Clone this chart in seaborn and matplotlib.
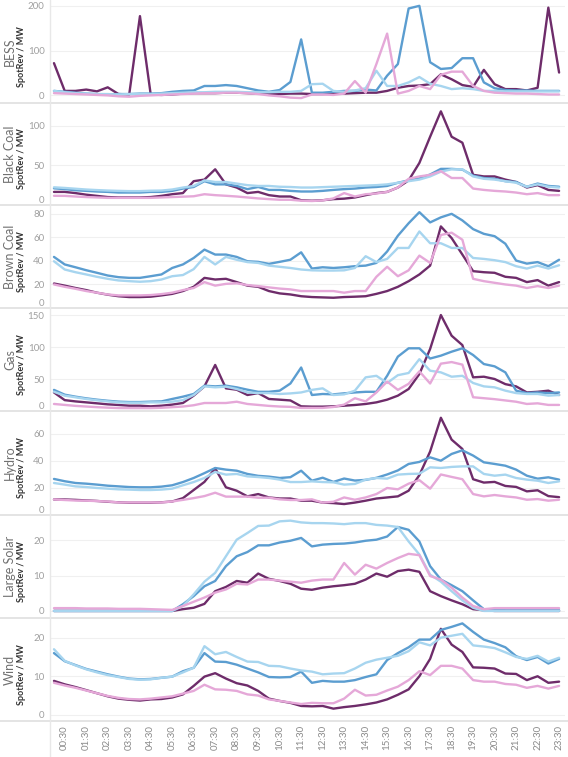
import numpy as np
import pandas as pd
import matplotlib
matplotlib.use("Agg")
import matplotlib.pyplot as plt
from matplotlib.lines import Line2D
import seaborn as sns

# half-hour slots, labels shown on the :30 ones
times = [f"{h:02d}:{m:02d}" for h in range(24) for m in (0, 30)]
fuels = ["BESS", "Black Coal", "Brown Coal", "Gas", "Hydro", "Large Solar", "Wind"]
series = ["Series 1", "Series 2", "Series 3", "Series 4"]

bess_s1 = [72, 10, 10, 13, 9, 18, 3, 2, 177, 2, 1, 2, 4, 5, 5, 5, 6, 6, 5, 4, 3, 3, 4, 4,
           3, 3, 4, 4, 5, 6, 6, 10, 17, 21, 22, 25, 47, 36, 23, 19, 57, 25, 14, 14, 11, 17, 196, 51]
bess_s2 = [10, 8, 6, 4, 3, 2, 3, 3, 4, 4, 5, 8, 10, 11, 21, 21, 23, 21, 16, 11, 8, 12, 30, 125,
           6, 6, 8, 10, 10, 13, 11, 44, 70, 194, 200, 74, 59, 61, 83, 83, 29, 16, 12, 11, 11, 10, 10, 10]
bess_s3 = [10, 7, 5, 4, 3, 3, 2, 3, 3, 3, 4, 5, 6, 7, 7, 8, 8, 8, 7, 7, 7, 8, 8, 10,
           25, 26, 10, 8, 11, 16, 55, 21, 21, 29, 41, 26, 21, 14, 16, 14, 10, 10, 9, 9, 9, 9, 9, 9]
bess_s4 = [5, 4, 3, 2, 1, 0, -2, -3, -1, 0, 1, 2, 3, 4, 5, 5, 6, 6, 5, 3, 0, -2, -5, -6,
           2, 2, 1, 4, 32, 6, 70, 138, 4, 10, 21, 14, 46, 53, 53, 21, 10, 6, 5, 4, 4, 3, 2, 2]

black_s1 = [16.5, 16.5, 15, 13, 11.5, 10, 9.5, 9.5, 9.5, 10, 11.5, 13.6, 15, 30, 32, 45, 26, 22, 15, 16.5, 12.4, 10.7, 10.7, 6,
            5.4, 6, 7.4, 8, 9.5, 12.4, 15, 16.5, 22, 31, 53, 86, 118, 86, 78.5, 38, 36, 36, 32, 29, 22, 25, 19, 17.8]
black_s2 = [21, 20, 18.6, 17.8, 17, 16.5, 15.7, 15.7, 15.7, 16.5, 16.5, 17.8, 20.7, 22.7, 30, 26, 26, 24, 20, 22.7, 19, 19, 17.8, 17,
            17, 17.8, 19, 20, 20.7, 22, 22.7, 24, 28, 31, 33.5, 38.4, 45.5, 45.5, 44.6, 37, 34, 33, 30, 29, 23, 27, 24, 23]
black_s3 = [22.3, 21.5, 20.5, 19.5, 18.8, 18.2, 17.8, 17.5, 17.5, 18, 18.2, 19.5, 22, 24, 31, 29, 29, 27, 25, 24, 24, 23, 22.7, 22,
            22, 22.5, 23, 23.5, 24, 24.5, 25, 26, 28, 30, 32, 36, 42, 45, 45, 36, 33, 32, 30, 28, 23, 26, 23, 22]
black_s4 = [11.6, 11.5, 10.7, 10, 9.5, 9, 9, 9, 9, 9, 9.5, 10, 10.5, 11, 13.6, 12.4, 11.6, 10.7, 9.5, 8.3, 7.4, 6.6, 6.6, 5.4,
            5, 5.8, 8.3, 15, 10.7, 13.6, 14.5, 16.5, 22, 33, 36, 38, 42.6, 34, 34, 20.7, 19, 17.8, 17, 15.7, 13.6, 15, 12.4, 12.4]

brown_s1 = [20.8, 19, 17, 15.2, 13, 11.3, 10, 9.3, 9.3, 9.6, 10.7, 12, 14.4, 18, 25.6, 24.2, 24.8, 22, 19, 18, 14.4, 12.4, 11.5, 10,
            9.3, 9, 8.7, 9.3, 9.6, 10, 12, 14.4, 18, 22.8, 28.5, 36, 69.3, 59.4, 45.4, 31.3, 30.4, 29.9, 26.5, 25.6, 22, 23.7, 19, 22]
brown_s2 = [43.4, 37, 34.6, 32.1, 29.9, 27.6, 26.2, 25.6, 25.6, 27, 28.5, 34, 37, 42.5, 49.6, 45.4, 45.4, 43.4, 39.7, 39.2, 37.5, 39.2, 41, 47.3,
            33.5, 34.6, 34, 34.6, 35.5, 36, 38.3, 48, 61.4, 72, 81.4, 72.7, 77, 80, 74.4, 67, 63, 61, 54.6, 40.3, 37.7, 39, 35.5, 41]
brown_s3 = [39.7, 32.7, 30.4, 28.5, 26.5, 24.8, 23.4, 22.8, 22.3, 22.8, 24.2, 27, 28, 33, 43.4, 37, 43.4, 41, 39, 38.3, 36, 35, 34, 32.7,
            32, 31.8, 31.8, 32, 34, 44, 39, 41.7, 51, 51, 65, 55, 55, 51, 51, 42.5, 41.7, 40.6, 39, 35.5, 33.5, 36, 33.5, 36.3]
brown_s4 = [20, 18, 16.3, 14.4, 13, 11.5, 10.7, 10.7, 10.7, 11, 11.8, 13, 15.2, 17, 22, 19, 20.5, 21, 19.5, 18.6, 17.5, 16.5, 15.8, 14.4,
            14.4, 14.4, 14.4, 13, 14.4, 14.4, 26.5, 35, 27, 32, 44.5, 38.3, 62, 64, 58, 24.8, 22.8, 21.4, 20, 19, 17, 18.6, 17, 19]

gas_s1 = [29, 17, 15, 13.5, 12, 10.4, 9.4, 8.3, 8.3, 7.3, 8.3, 10, 12.5, 24, 38.5, 72, 35.4, 33.3, 25, 28, 18.8, 17.7, 16.5, 7.3,
          6.8, 6.8, 7.3, 8.3, 9.4, 11, 13.5, 17.7, 24, 34.4, 57.8, 97, 150, 117.7, 103, 52.6, 53.6, 50, 42, 38.5, 29, 30, 31.8, 25]
gas_s2 = [33, 25.5, 22.4, 19.8, 17.7, 16, 14.6, 14, 14, 14.6, 15, 18.8, 22.4, 26.6, 39.6, 38.5, 39.6, 37, 33.3, 30, 30, 31.8, 43, 68,
          25, 26.6, 26, 27.6, 29, 30, 30, 55, 85, 98, 98, 82, 86.5, 92.7, 98, 87.5, 73.4, 69.8, 60.4, 31.8, 28, 29, 28, 29]
gas_s3 = [30, 24, 21.4, 18.8, 16.7, 15, 13.5, 13, 13, 13.5, 13.5, 14.6, 17, 25, 38.5, 37, 38, 34.4, 29, 28, 28, 26.6, 27.5, 29,
          33, 35.4, 25, 26, 31.8, 52.6, 55, 43.8, 56, 59.4, 81, 63, 60.4, 53.6, 55, 43.8, 38.5, 37, 31.8, 28, 26.6, 26.6, 24, 25]
gas_s4 = [11, 9.5, 8, 7, 6, 5.2, 4.6, 4.5, 4.5, 4.5, 5, 6, 7, 9, 12.5, 12.5, 12.5, 14.5, 11, 9.5, 8, 7, 6.5, 4.8,
          4.8, 4.8, 6.3, 10, 20, 15, 29, 46, 33, 42.5, 62, 43, 74, 76.5, 72.5, 21.5, 20, 18.5, 16.5, 14.5, 11, 12, 9.5, 9.5]

hydro_s1 = [11.5, 11.5, 11.2, 10.8, 10.4, 9.8, 9.4, 9.1, 9.1, 9.1, 9.4, 10, 12.5, 18.5, 24.5, 34.5, 20.5, 18, 13.8, 15.5, 13, 12.2, 12.2, 10.6,
            10.6, 9.2, 8.8, 8.1, 9.2, 10.6, 12.2, 13, 13.8, 18, 29.5, 47, 72, 55.8, 48.9, 26.5, 24, 24.5, 21.5, 20.8, 17.5, 18.3, 14, 13.2]
hydro_s2 = [26.7, 25, 23.7, 23.2, 22.5, 21.7, 21.2, 20.7, 20.5, 20.5, 21, 22, 24.4, 27.4, 31, 34.8, 33.6, 32.8, 30.4, 29, 28.4, 27.4, 28, 32.8,
            25.4, 27.6, 24.5, 27, 25.5, 26, 27.5, 30, 33, 37.8, 39.3, 42.7, 40.2, 45.2, 47.9, 44, 39, 37.8, 36.5, 33.6, 29.1, 26.9, 27.9, 26.2]
hydro_s3 = [23.7, 22.5, 21.2, 20.7, 20, 19.5, 19, 18.8, 18.5, 18.5, 18.8, 19.5, 22, 24.4, 27.4, 31.9, 29.9, 30.4, 28.6, 28.1, 27.4, 26.2, 24.4, 24.4,
            24.9, 24.4, 24.2, 22.5, 23, 26.2, 27.4, 26.9, 29.9, 30.4, 30.6, 35.3, 34.8, 35.6, 36, 36, 30.4, 29.1, 29.9, 27.4, 26.2, 25.4, 23.7, 24.9]
hydro_s4 = [11.5, 11.1, 10.7, 10.6, 10.3, 10, 9.3, 9.3, 9.3, 9.3, 9.3, 10, 11.2, 12.5, 14, 16.5, 13.6, 13.6, 13.6, 12.8, 12.8, 11.6, 11.1, 11.1,
            11.6, 9.2, 9.8, 13, 11.3, 13, 15.5, 20, 19, 23.2, 25.8, 19.5, 30, 28.2, 26.5, 15.5, 13.8, 14.8, 13.8, 13, 11.3, 11.8, 10.6, 11.3]

solar_s1 = [0, 0, 0, 0, 0, 0, 0, 0, 0, 0, 0, 0, 0.5, 0.9, 2, 5.6, 6.8, 8.5, 8, 10.6, 9.1, 8.5, 7.7, 6.3,
            6, 6.6, 7, 7.3, 7.7, 8.9, 10.6, 9.7, 11.3, 11.7, 11.1, 5.6, 4.2, 3, 1.9, 0.5, 0.2, 0, 0, 0, 0, 0, 0, 0]
solar_s2 = [0, 0, 0, 0, 0, 0, 0, 0, 0, 0, 0, 0, 1.9, 4.2, 7, 8.5, 12.7, 15.5, 16.7, 18.6, 18.6, 19.4, 19.9, 20.7,
            18.3, 18.8, 19, 19.1, 19.4, 19.9, 20.2, 21.1, 23.8, 23, 19.7, 12.7, 8.9, 7.3, 5.6, 3, 0.5, 0.5, 0.2, 0.2, 0.2, 0.2, 0.2, 0.2]
solar_s3 = [0, 0, 0, 0, 0, 0, 0, 0, 0, 0, 0, 0, 1.4, 4.7, 8.3, 10.8, 15.5, 20.2, 22.1, 24.1, 24.2, 25.4, 25.6, 25.1,
            24.9, 24.9, 24.8, 24.6, 24.9, 24.9, 24.4, 24.2, 23.8, 19.7, 16, 10.3, 8.3, 5.6, 3, 0.9, 0, 0, 0, 0, 0, 0, 0, 0]
solar_s4 = [0.8, 0.8, 0.8, 0.7, 0.7, 0.7, 0.6, 0.6, 0.6, 0.5, 0.4, 0.3, 1.4, 2.6, 3.8, 5.2, 6.1, 7.7, 7.5, 8.9, 8.9, 8.6, 8.3, 8,
            8.6, 8.9, 8.9, 13.6, 10.3, 13.1, 12, 13.6, 15, 16.2, 15.8, 9.9, 8.9, 6.6, 3.8, 1.4, 0.5, 0.8, 0.8, 0.8, 0.8, 0.8, 0.8, 0.8]

wind_s1 = [8.8, 7.9, 7.2, 6.4, 5.6, 4.8, 4.2, 3.9, 3.7, 4.0, 4.1, 4.5, 5.3, 7.5, 9.9, 10.8, 9.4, 8.2, 7.6, 6.2, 4.2, 3.6, 3.1, 2.3,
           2.2, 2.3, 1.6, 2.0, 2.3, 2.7, 3.2, 4.0, 5.2, 6.6, 10.0, 14.5, 22.3, 18.2, 16.3, 12.3, 12.2, 12.0, 10.7, 10.6, 9.0, 10.0, 8.3, 8.6]
wind_s2 = [16.0, 13.9, 12.9, 11.9, 11.2, 10.5, 9.9, 9.4, 9.2, 9.3, 9.6, 9.9, 11.3, 12.2, 16.0, 13.8, 13.7, 13.0, 12.0, 11.0, 9.8, 9.7, 9.8, 11.2,
           8.3, 8.8, 8.6, 8.6, 9.0, 9.8, 10.5, 14.2, 16.0, 17.5, 19.5, 19.5, 22.0, 22.8, 23.7, 21.5, 19.5, 18.6, 17.5, 15.2, 14.2, 15.0, 13.3, 14.5]
wind_s3 = [17, 14, 12.8, 11.8, 11, 10.3, 9.8, 9.3, 9.1, 9.2, 9.6, 9.9, 11, 12.2, 17.8, 15.7, 16.3, 15, 13.8, 13.7, 12.7, 12.6, 12, 11.5,
           11.2, 10.5, 10.7, 10.8, 12, 13.5, 14.3, 14.8, 15.3, 16.5, 18.8, 18, 20, 20.5, 21, 18, 17.7, 17.3, 16.2, 15, 14.5, 15.3, 13.8, 14.8]
wind_s4 = [8.3, 7.6, 7.0, 6.3, 5.6, 4.9, 4.4, 4.1, 4.0, 4.2, 4.5, 4.8, 5.5, 6.2, 7.8, 6.6, 6.5, 6.2, 5.3, 5.0, 4.0, 3.6, 3.2, 2.8,
           3.1, 3.0, 3.0, 4.2, 6.5, 5.0, 5.2, 6.3, 7.3, 9.0, 11.3, 10.3, 12.7, 12.7, 12.0, 9.0, 8.6, 8.6, 8.0, 7.8, 7.0, 7.5, 6.8, 7.5]

panel_data = {
    "BESS": [bess_s1, bess_s2, bess_s3, bess_s4],
    "Black Coal": [black_s1, black_s2, black_s3, black_s4],
    "Brown Coal": [brown_s1, brown_s2, brown_s3, brown_s4],
    "Gas": [gas_s1, gas_s2, gas_s3, gas_s4],
    "Hydro": [hydro_s1, hydro_s2, hydro_s3, hydro_s4],
    "Large Solar": [solar_s1, solar_s2, solar_s3, solar_s4],
    "Wind": [wind_s1, wind_s2, wind_s3, wind_s4],
}

y_ticks = {
    "BESS": [0, 100, 200], "Black Coal": [0, 50, 100], "Brown Coal": [0, 20, 40, 60, 80],
    "Gas": [0, 50, 100, 150], "Hydro": [0, 20, 40, 60], "Large Solar": [0, 10, 20], "Wind": [0, 10, 20],
}
y_lims = {
    "BESS": (-17, 213), "Black Coal": (0, 128.5), "Brown Coal": (0, 87.5), "Gas": (0, 161),
    "Hydro": (0, 77), "Large Solar": (-2, 27.2), "Wind": (-1.6, 25.1),
}

colors = ["#6e2c6a", "#5b9dd0", "#a7d5ef", "#e5a8d8"]

# long table for seaborn
rows = []
for fuel in fuels:
    for name, vals in zip(series, panel_data[fuel]):
        for i, v in enumerate(vals):
            rows.append((fuel, i, times[i], name, v))
df = pd.DataFrame(rows, columns=["fuel", "slot", "time", "series", "value"])

sns.set_theme(style="white")
plt.rcParams["font.family"] = ["Lato", "DejaVu Sans"]

W, H = 568, 757
fig = plt.figure(figsize=(W / 100, H / 100), dpi=100)

bounds = [0, 103, 205, 308, 411, 515, 618, 721]
left_px, right_px = 50, 565

for k, fuel in enumerate(fuels):
    top, bot = bounds[k], bounds[k + 1]
    ax = fig.add_axes([left_px / W, 1 - bot / H, (right_px - left_px) / W, (bot - top) / H])
    sub = df[df["fuel"] == fuel]
    sns.lineplot(data=sub, x="slot", y="value", hue="series", hue_order=series,
                 palette=colors, legend=False, linewidth=1.7, ax=ax)
    ax.set_xlim(-0.37, 47.55)
    ax.set_ylim(*y_lims[fuel])
    ax.set_yticks(y_ticks[fuel])
    ax.grid(axis="y", color="#f0f0f0", linewidth=0.8)
    ax.set_axisbelow(True)
    for s in ax.spines.values():
        s.set_visible(False)
    ax.tick_params(axis="y", length=0, labelsize=7, labelcolor="#a0a0a0", pad=4)
    # a zero sitting on the panel floor gets lifted inside, like the original
    for t, lab in zip(y_ticks[fuel], ax.get_yticklabels()):
        if t <= y_lims[fuel][0]:
            lab.set_verticalalignment("bottom")
    ax.set_xlabel("")
    ax.set_ylabel("")
    ax.set_xticks(range(1, 48, 2))
    if fuel == fuels[-1]:
        ax.set_xticklabels(times[1::2], rotation=90)
        ax.tick_params(axis="x", length=0, labelsize=7, labelcolor="#8a8a8a", pad=3)
    else:
        ax.set_xticklabels([])
        ax.tick_params(axis="x", length=0)

    mid = 1 - (top + bot) / 2 / H
    fig.text(10 / W, mid, fuel, rotation=90, ha="center", va="center",
             fontsize=9, color="#707070")
    fig.text(22 / W, mid - 5 / H, "SpotRev / MW", rotation=90, ha="center", va="center",
             fontsize=6.5, color="#333333", fontweight="bold")

# panel separators and the row-header divider
for b in bounds[1:]:
    fig.add_artist(Line2D([0, 1], [1 - b / H, 1 - b / H], transform=fig.transFigure,
                         color="#e4e4e4", linewidth=1.4))
fig.add_artist(Line2D([left_px / W, left_px / W], [0, 1], transform=fig.transFigure,
                      color="#e8e8e8", linewidth=1.0))

fig.savefig("out.png", dpi=100)
